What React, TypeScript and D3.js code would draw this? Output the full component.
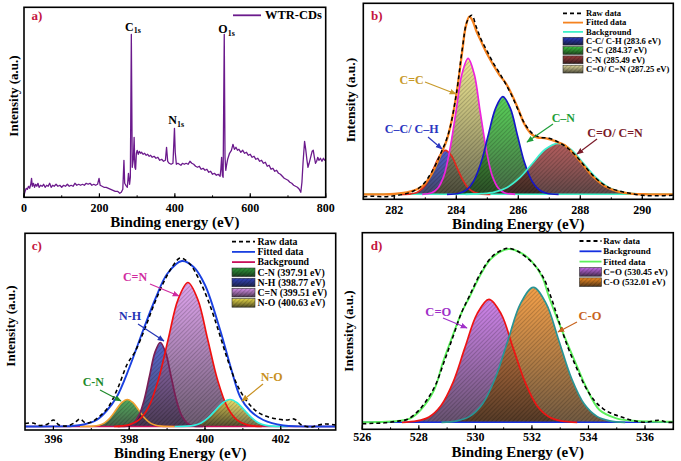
import React from "react";
import * as d3 from "d3";

type P = [number, number];

const FONT = "'Liberation Serif', 'Times New Roman', serif";

// ---------------- (a) survey spectrum ----------------
const surveyData: P[] = [[0,2],[3,6],[6,9],[9,8],[12,11],[15,9],[18,13],[20,19],[22,11],[25,14],[28,10],[31,13],[34,11],[37,14],[40,10],[44,12],[48,11],[52,13],[56,10],[60,12],[64,11],[68,14],[72,10],[76,12],[80,11],[85,13],[90,11],[95,12],[100,10],[105,12],[110,11],[115,13],[120,11],[125,12],[130,11],[135,14],[140,12],[145,13],[150,12],[155,13],[160,12],[165,14],[170,13],[175,14],[180,12],[185,13],[190,12],[195,13],[199,19],[202,12],[207,11],[212,10],[218,10],[224,9],[230,8],[236,7],[242,6],[248,6],[254,4],[258,5],[262,8],[265,37],[267,14],[270,12],[274,10],[277,24],[280,13],[282,20],[284.6,163],[287,30],[290,38],[292,60],[294,30],[296,28],[298,44],[300,47],[303,43],[306,46],[309,44],[312,45],[316,43],[320,44],[324,42],[328,43],[332,41],[336,42],[340,40],[345,41],[350,39],[355,40],[360,37],[365,38],[370,36],[375,37],[378,50],[381,36],[385,34],[390,33],[395,34],[399,69],[401,45],[404,33],[408,34],[412,33],[416,32],[420,34],[425,33],[430,34],[435,33],[440,36],[445,34],[450,33],[455,31],[460,30],[465,31],[470,28],[475,29],[480,27],[485,28],[490,25],[495,26],[500,23],[505,24],[510,22],[515,23],[520,21],[522,28],[524,40],[526,22],[528,20],[531,163],[533,40],[535,27],[537,32],[540,38],[545,44],[550,47],[554,53],[558,48],[562,50],[566,47],[570,48],[575,45],[580,47],[585,44],[590,45],[595,42],[600,43],[605,40],[610,41],[615,38],[620,39],[625,36],[630,37],[635,34],[640,35],[645,31],[650,32],[655,28],[660,29],[665,26],[670,27],[675,24],[680,23],[685,21],[690,19],[695,18],[700,17],[705,15],[710,14],[715,12],[720,11],[725,10],[730,8],[734,5],[737,15],[740,35],[744,56],[747,48],[750,38],[753,30],[756,34],[760,40],[764,46],[767,47],[770,40],[773,34],[776,36],[779,40],[782,37],[786,39],[790,36],[794,39],[797,37],[800,38]];
const surveyTicks = [0, 200, 400, 600, 800];

// ---------------- (b) C 1s ----------------
const c1sRaw: P[] = [[281,2.6],[281.3,3],[281.7,2.5],[282,3.5],[282.3,5],[282.6,8],[282.9,14],[283.2,27],[283.5,46],[283.75,66],[284,105],[284.2,152],[284.35,178],[284.5,184],[284.65,172],[284.8,160],[285,148],[285.2,136],[285.4,126],[285.6,115],[285.8,103],[286,89],[286.2,76],[286.45,66],[286.7,62],[287,61],[287.3,57],[287.6,51],[287.9,42],[288.2,31],[288.5,21],[288.9,12],[289.3,8],[289.6,6],[290,4],[290.5,3.5],[291,4]];
const c1sFit: P[] = [[281,5],[281.5,5],[282,5.3],[282.5,7.6],[282.9,13],[283.2,25],[283.5,45],[283.7,60],[283.9,86],[284.05,115],[284.2,150],[284.3,172],[284.42,182.6],[284.52,179],[284.65,168],[284.8,158],[285,145],[285.2,134],[285.4,124],[285.6,116],[285.8,104],[286,90],[286.2,75],[286.4,66],[286.6,62],[286.9,61],[287.2,58],[287.5,54],[287.8,45],[288.1,34],[288.4,23],[288.8,13],[289.2,8],[289.7,5.5],[290.2,5],[291,5]];
const c1sBg: P[] = [[281,5],[291,5]];
const c1sCC: P[] = [[282.2,5],[282.54,5.5],[282.73,6.9],[282.91,10.9],[283.1,19.3],[283.28,31.7],[283.47,43.8],[283.65,49],[283.84,43.8],[284.02,31.7],[284.21,19.3],[284.39,10.9],[284.58,6.9],[284.76,5.5],[285.1,5]];
const c1sCeqC: P[] = [[282.9,5],[283.21,6.5],[283.4,11],[283.6,23.4],[283.79,49.2],[283.99,87.6],[284.18,125],[284.38,141],[284.58,125],[284.77,87.6],[284.97,49.2],[285.16,23.4],[285.36,11],[285.55,6.5],[285.9,5]];
const c1sCN: P[] = [[283.7,5],[284.09,6.1],[284.33,9.3],[284.56,18.2],[284.8,36.7],[285.03,64.2],[285.27,91.1],[285.5,102.6],[285.74,91.1],[285.97,64.2],[286.2,36.7],[286.44,18.2],[286.68,9.3],[286.91,6.1],[287.3,5]];
const c1sCO: P[] = [[284.3,5],[284.82,5.6],[285.23,7.2],[285.64,11.9],[286.05,21.6],[286.46,36],[286.87,50],[287.28,56],[287.69,50],[288.1,36],[288.51,21.6],[288.92,11.9],[289.33,7.2],[289.74,5.6],[290.3,5]];
const c1sTicks = [282, 284, 286, 288, 290];
const c1sLegend = ["Raw data", "Fitted data", "Background", "C-C/ C-H (283.6 eV)", "C=C (284.37 eV)", "C-N (285.49 eV)", "C=O/ C=N (287.25 eV)"];

// ---------------- (c) N 1s ----------------
const n1sRaw: P[] = [[395.25,6.5],[395.45,7],[395.65,4.5],[395.85,6],[396,10],[396.15,5],[396.35,4],[396.55,7],[396.7,11],[396.85,7],[397,8],[397.2,13],[397.45,23],[397.7,42],[397.95,66],[398.15,78],[398.4,100],[398.65,125],[398.9,147],[399.15,164],[399.35,172],[399.6,166],[399.85,150],[400.1,128],[400.35,100],[400.6,70],[400.85,45],[401.1,29],[401.35,19],[401.6,14],[401.9,11],[402.15,10],[402.35,11],[402.55,5],[402.8,3],[403,5],[403.2,6],[403.45,5]];
const n1sFit: P[] = [[395.25,3.5],[396,3.6],[396.5,4],[396.8,5.5],[397.14,10],[397.4,19],[397.67,33],[398,62],[398.37,100],[398.7,132],[399,156],[399.39,169],[399.7,163],[400,145],[400.4,100],[400.7,60],[400.93,33],[401.2,19],[401.54,10],[402.07,4.5],[402.5,3.6],[403.45,3.5]];
const n1sBg: P[] = [[395.25,3.5],[403.45,3.5]];
const n1sCN: P[] = [[396.7,3.5],[397.05,3.8],[397.2,4.7],[397.35,7.1],[397.5,12.3],[397.65,19.9],[397.8,27.3],[397.95,30.5],[398.1,27.3],[398.25,19.9],[398.4,12.3],[398.55,7.1],[398.7,4.7],[398.85,3.8],[399.2,3.5]];
const n1sNH: P[] = [[397.7,3.5],[397.98,4.4],[398.12,7.2],[398.26,14.8],[398.4,30.8],[398.54,54.5],[398.68,77.6],[398.82,87.5],[398.96,77.6],[399.1,54.5],[399.24,30.8],[399.38,14.8],[399.52,7.2],[399.66,4.4],[399.95,3.5]];
const n1sCeqN: P[] = [[397.6,3.5],[397.99,5.1],[398.25,9.8],[398.51,22.9],[398.77,50.3],[399.03,90.9],[399.29,130.5],[399.55,147.5],[399.81,130.5],[400.07,90.9],[400.33,50.3],[400.59,22.9],[400.85,9.8],[401.11,5.1],[401.5,3.5]];
const n1sNO: P[] = [[399.2,3.5],[399.52,3.8],[399.71,4.7],[399.9,7.1],[400.09,12.3],[400.28,19.9],[400.47,27.3],[400.66,30.5],[400.85,27.3],[401.04,19.9],[401.23,12.3],[401.42,7.1],[401.61,4.7],[401.8,3.8],[402.2,3.5]];
const n1sTicks = [396, 398, 400, 402];
const n1sLegend = ["Raw data", "Fitted data", "Background", "C-N (397.91 eV)", "N-H (398.77 eV)", "C=N (399.51 eV)", "N-O (400.63 eV)"];

// ---------------- (d) O 1s ----------------
const o1sRaw: P[] = [[526,5.5],[526.4,6],[526.8,6.5],[527.2,8],[527.6,10],[528,19],[528.3,30],[528.6,45],[528.9,68],[529.2,92],[529.5,116],[529.8,134],[530.2,157],[530.6,173],[531,180],[531.2,181],[531.5,178],[531.8,172],[532.1,164],[532.4,152],[532.7,130],[533,104],[533.3,80],[533.6,60],[533.9,42],[534.2,29],[534.5,21],[534.8,16],[535.1,13],[535.4,10],[535.7,8],[536,7],[536.5,9],[536.8,7],[537,7]];
const o1sFit: P[] = [[526,7],[527.35,8.6],[527.7,11],[528.06,19.3],[528.54,39.3],[528.84,66],[529.14,89.3],[529.5,116],[529.8,132.6],[530.21,156],[530.57,171],[531.17,180.3],[531.64,176],[532,167.6],[532.36,152.6],[532.6,132.6],[532.96,106],[533.55,66],[533.91,42.6],[534.39,19.3],[534.99,11],[535.58,8.6],[537,7.6]];
const o1sBg: P[] = [[526,7],[537,7]];
const o1sCeqO: P[] = [[527.4,7],[527.93,8.4],[528.36,12.4],[528.78,23.6],[529.21,47],[529.63,81.7],[530.06,115.5],[530.48,130],[530.91,115.5],[531.33,81.7],[531.76,47],[532.18,23.6],[532.61,12.4],[533.03,8.4],[533.6,7]];
const o1sCO: P[] = [[528.8,7],[529.35,8.5],[529.8,12.9],[530.25,25.2],[530.7,50.9],[531.15,88.9],[531.6,126],[532.05,142],[532.5,126],[532.95,88.9],[533.4,50.9],[533.85,25.2],[534.3,12.9],[534.75,8.5],[535.3,7]];
const o1sTicks = [526, 528, 530, 532, 534, 536];
const o1sLegend = ["Raw data", "Background", "Fitted data", "C=O (530.45 eV)", "C-O (532.01 eV)"];

// ------------------------------------------------------------
type Frame = { x0: number; x1: number; y0: number; y1: number };
type Comp = { id: string; data: P[]; fill: string; stroke: string };
type Line = { data: P[]; color: string; width: number; dash?: string };
type LegendItem = { label: string; kind: "dash" | "line" | "swatch"; color: string; id?: string };
type Ann = { text: string; x: number; y: number; color: string; size: number; ax1: number; ay1: number; ax2: number; ay2: number };

const darken = (c: string) => d3.interpolateRgb(c, "#141414")(0.72);

function GradDefs({ comps }: { comps: { id: string; fill: string }[] }) {
  return (
    <>
      {comps.map((c) => (
        <linearGradient key={c.id} id={"g-" + c.id} x1="0" y1="0" x2="0" y2="1">
          <stop offset="0" stopColor={c.fill} />
          <stop offset="0.45" stopColor={d3.interpolateRgb(c.fill, "#141414")(0.3)} />
          <stop offset="1" stopColor={darken(c.fill)} />
        </linearGradient>
      ))}
    </>
  );
}

function Panel(props: {
  frame: Frame; xDomain: [number, number]; yMax: number; ticks: number[]; minorStep: number;
  base: number; comps: Comp[]; bg?: Line; fit?: Line; raw?: Line; survey?: Line;
  curve: any; label: string; labelPos: [number, number];
  tickY: number; tickSize: number; xTitle: string; titleY: number; titleSize: number;
  yTitleX: number; yTitleY: number; yTitleSize: number;
  legend: LegendItem[]; legX: number; legTextX: number; legY: number; legStep: number; legSize: number; legLineW: number;
  anns: Ann[]; id: string; extra?: React.ReactNode;
}) {
  const f = props.frame;
  const xs = d3.scaleLinear().domain(props.xDomain).range([f.x0, f.x1]);
  const ys = d3.scaleLinear().domain([0, props.yMax]).range([f.y1, f.y0]);
  const line = d3.line<P>().x((d) => xs(d[0])).y((d) => ys(d[1])).curve(props.curve);
  const area = d3.area<P>().x((d) => xs(d[0])).y0(ys(props.base)).y1((d) => ys(d[1])).curve(props.curve);
  const minor: number[] = [];
  for (let v = Math.ceil(props.xDomain[0] / props.minorStep) * props.minorStep; v <= props.xDomain[1] + 1e-9; v += props.minorStep) minor.push(v);
  const clip = "clip-" + props.id;
  const drawLine = (l: Line | undefined, key: string) =>
    l ? <path key={key} d={line(l.data) || ""} fill="none" stroke={l.color} strokeWidth={l.width} strokeDasharray={l.dash} strokeLinejoin="round" /> : null;
  return (
    <g>
      <defs>
        <clipPath id={clip}><rect x={f.x0} y={f.y0} width={f.x1 - f.x0} height={f.y1 - f.y0} /></clipPath>
      </defs>
      <g clipPath={`url(#${clip})`}>
        {props.comps.map((c) => (
          <g key={c.id}>
            <path d={area(c.data) || ""} fill={`url(#g-${c.id})`} fillOpacity={0.82} />
            <path d={area(c.data) || ""} fill="url(#hatch)" />
          </g>
        ))}
        {drawLine(props.bg, "bg")}
        {props.comps.map((c) => (
          <path key={"o" + c.id} d={line(c.data) || ""} fill="none" stroke={c.stroke} strokeWidth={1.7} />
        ))}
        {drawLine(props.fit, "fit")}
        {drawLine(props.raw, "raw")}
        {props.survey ? <path d={d3.line<P>().x((d) => xs(d[0])).y((d) => ys(d[1]))(props.survey.data) || ""} fill="none" stroke={props.survey.color} strokeWidth={props.survey.width} strokeLinejoin="round" /> : null}
      </g>
      <rect x={f.x0} y={f.y0} width={f.x1 - f.x0} height={f.y1 - f.y0} fill="none" stroke="#000" strokeWidth={1.6} />
      {minor.map((v) => (
        <line key={"m" + v} x1={xs(v)} x2={xs(v)} y1={f.y1} y2={f.y1 - 2} stroke="#000" strokeWidth={1} />
      ))}
      {props.ticks.map((t) => (
        <g key={"t" + t}>
          <line x1={xs(t)} x2={xs(t)} y1={f.y1} y2={f.y1 - 4} stroke="#000" strokeWidth={1.2} />
          <text x={xs(t)} y={props.tickY} textAnchor="middle" fontSize={props.tickSize} fontWeight="bold" fontFamily={FONT}>{t}</text>
        </g>
      ))}
      <text x={(f.x0 + f.x1) / 2} y={props.titleY} textAnchor="middle" fontSize={props.titleSize} fontWeight="bold" fontFamily={FONT}>{props.xTitle}</text>
      <text transform={`translate(${props.yTitleX},${props.yTitleY}) rotate(-90)`} textAnchor="middle" fontSize={props.yTitleSize} fontWeight="bold" fontFamily={FONT}>Intensity (a.u.)</text>
      <text x={props.labelPos[0]} y={props.labelPos[1]} fontSize={13} fontWeight="bold" fontFamily={FONT} fill="#c4163f">{props.label}</text>
      {props.legend.map((it, i) => {
        const y = props.legY + i * props.legStep;
        const x1 = props.legX, x2 = props.legX + props.legLineW;
        let mark: React.ReactNode;
        if (it.kind === "dash") mark = <line x1={x1} x2={x2} y1={y} y2={y} stroke="#000" strokeWidth={1.8} strokeDasharray="4,3" />;
        else if (it.kind === "line") mark = <line x1={x1} x2={x2} y1={y} y2={y} stroke={it.color} strokeWidth={1.8} />;
        else mark = (
          <g>
            <rect x={x1} y={y - props.legStep * 0.42} width={x2 - x1} height={props.legStep * 0.84} fill={`url(#g-${it.id})`} stroke="#333" strokeWidth={0.6} />
            <rect x={x1} y={y - props.legStep * 0.42} width={x2 - x1} height={props.legStep * 0.84} fill="url(#hatch)" />
          </g>
        );
        return (
          <g key={"l" + i}>
            {mark}
            <text x={props.legTextX} y={y + props.legSize * 0.33} fontSize={props.legSize} fontWeight="bold" fontFamily={FONT}>{it.label}</text>
          </g>
        );
      })}
      {props.anns.map((a, i) => (
        <g key={"a" + i}>
          <text x={a.x} y={a.y} textAnchor="middle" fontSize={a.size} fontWeight="bold" fontFamily={FONT} fill={a.color}>{a.text}</text>
          <line x1={a.ax1} y1={a.ay1} x2={a.ax2} y2={a.ay2} stroke={a.color} strokeWidth={1.2} markerEnd={`url(#arr-${a.color.slice(1)})`} />
        </g>
      ))}
      {props.extra}
    </g>
  );
}

const ANN_COLORS = ["#c89a2a", "#2a35c0", "#1e9e3a", "#7a1a28", "#d02ca0", "#2535b5", "#1e8a2a", "#c89020", "#a030c8", "#c8641e"];

export default function App() {
  const bComps: Comp[] = [
    { id: "bCC", data: c1sCC, fill: "#2a3ac0", stroke: "#e0281e" },
    { id: "bCeqC", data: c1sCeqC, fill: "#ece27a", stroke: "#ee22dd" },
    { id: "bCN", data: c1sCN, fill: "#34c834", stroke: "#1616c8" },
    { id: "bCO", data: c1sCO, fill: "#a43a3a", stroke: "#3ff0d0" },
  ];
  const cComps: Comp[] = [
    { id: "cCN", data: n1sCN, fill: "#2e9a3a", stroke: "#f0a030" },
    { id: "cNH", data: n1sNH, fill: "#3444c0", stroke: "#7a1e55" },
    { id: "cCeqN", data: n1sCeqN, fill: "#d890ea", stroke: "#f01010" },
    { id: "cNO", data: n1sNO, fill: "#e6d848", stroke: "#30f0e0" },
  ];
  const dComps: Comp[] = [
    { id: "dCeqO", data: o1sCeqO, fill: "#c468e6", stroke: "#ee1414" },
    { id: "dCO", data: o1sCO, fill: "#f28c22", stroke: "#2a9494" },
  ];
  const legendFills = [
    { id: "lbCC", fill: "#2a3ac0" }, { id: "lbCeqC", fill: "#3cc03c" }, { id: "lbCN", fill: "#9a3a3a" }, { id: "lbCO", fill: "#e0d89a" },
  ];
  const curve = d3.curveCatmullRom.alpha(0.5);

  return (
    <svg width={681} height={461} style={{ position: "absolute", left: 0, top: 0, background: "#fff" }}>
      <defs>
        <pattern id="hatch" patternUnits="userSpaceOnUse" width={3} height={3} patternTransform="rotate(45)">
          <line x1={0} y1={0} x2={0} y2={3} stroke="#000" strokeOpacity={0.35} strokeWidth={1} />
        </pattern>
        <GradDefs comps={[...bComps, ...cComps, ...dComps, ...legendFills]} />
        {ANN_COLORS.map((c) => (
          <marker key={c} id={"arr-" + c.slice(1)} viewBox="0 0 10 10" refX={9} refY={5} markerWidth={7} markerHeight={7} orient="auto" markerUnits="userSpaceOnUse">
            <path d="M0,1 L10,5 L0,9 z" fill={c} />
          </marker>
        ))}
      </defs>

      {/* (a) */}
      <Panel id="a" frame={{ x0: 24, x1: 325.7, y0: 7.3, y1: 197.3 }} xDomain={[0, 800]} yMax={190} ticks={surveyTicks} minorStep={100}
        base={0} comps={[]} survey={{ data: surveyData, color: "#6b1a8c", width: 1.3 }} curve={d3.curveLinear}
        label="a)" labelPos={[31.5, 19.5]} tickY={212} tickSize={12} xTitle="Binding energy (eV)" titleY={226.5} titleSize={15}
        yTitleX={17.5} yTitleY={96} yTitleSize={13}
        legend={[{ label: "WTR-CDs", kind: "line", color: "#6b1a8c" }]} legX={233} legTextX={265} legY={15.3} legStep={10} legSize={12.5} legLineW={28}
        anns={[]}
        extra={
          <g fontFamily={FONT} fontWeight="bold" fontSize={12}>
            <text x={125} y={30.5}>C<tspan fontSize={8} dy={2.5}>1s</tspan></text>
            <text x={218.3} y={33.3}>O<tspan fontSize={8} dy={2.5}>1s</tspan></text>
            <text x={168.3} y={124}>N<tspan fontSize={8} dy={2.5}>1s</tspan></text>
          </g>
        } />

      {/* (b) */}
      <Panel id="b" frame={{ x0: 363.3, x1: 673.3, y0: 3.3, y1: 199.3 }} xDomain={[281, 291]} yMax={196} ticks={c1sTicks} minorStep={1}
        base={5} comps={bComps}
        bg={{ data: c1sBg, color: "#3ff0c8", width: 1.5 }}
        fit={{ data: c1sFit, color: "#f5821f", width: 2.3 }}
        raw={{ data: c1sRaw, color: "#000", width: 1.5, dash: "4,3" }}
        curve={curve} label="b)" labelPos={[371, 19.5]} tickY={213.5} tickSize={12} xTitle="Binding Energy (eV)" titleY={228.5} titleSize={15}
        yTitleX={355} yTitleY={100} yTitleSize={13.5}
        legend={[
          { label: c1sLegend[0], kind: "dash", color: "#000" },
          { label: c1sLegend[1], kind: "line", color: "#f5821f" },
          { label: c1sLegend[2], kind: "line", color: "#3ff0c8" },
          { label: c1sLegend[3], kind: "swatch", color: "", id: "lbCC" },
          { label: c1sLegend[4], kind: "swatch", color: "", id: "lbCeqC" },
          { label: c1sLegend[5], kind: "swatch", color: "", id: "lbCN" },
          { label: c1sLegend[6], kind: "swatch", color: "", id: "lbCO" },
        ]} legX={563} legTextX={586} legY={13.3} legStep={9.3} legSize={8.6} legLineW={20}
        anns={[
          { text: "C=C", x: 411.7, y: 84, color: "#c89a2a", size: 12, ax1: 425, ay1: 82, ax2: 456, ay2: 94 },
          { text: "C–C/ C–H", x: 411.7, y: 132.5, color: "#2a35c0", size: 12, ax1: 428, ay1: 137, ax2: 442, ay2: 149 },
          { text: "C–N", x: 563.3, y: 121.5, color: "#1e9e3a", size: 12, ax1: 553, ay1: 124, ax2: 527, ay2: 142 },
          { text: "C=O/ C=N", x: 615, y: 137, color: "#7a1a28", size: 12, ax1: 597, ay1: 139, ax2: 577, ay2: 154 },
        ]} />

      {/* (c) */}
      <Panel id="c" frame={{ x0: 25, x1: 335.7, y0: 233.3, y1: 430 }} xDomain={[395.25, 403.45]} yMax={196.7} ticks={n1sTicks} minorStep={1}
        base={3.5} comps={cComps}
        bg={{ data: n1sBg, color: "#c8105a", width: 1.5 }}
        fit={{ data: n1sFit, color: "#1a40e0", width: 1.9 }}
        raw={{ data: n1sRaw, color: "#000", width: 1.6, dash: "4,3" }}
        curve={curve} label="c)" labelPos={[31.7, 250]} tickY={443} tickSize={12} xTitle="Binding Energy (eV)" titleY={458} titleSize={15}
        yTitleX={15} yTitleY={326} yTitleSize={13}
        legend={[
          { label: n1sLegend[0], kind: "dash", color: "#000" },
          { label: n1sLegend[1], kind: "line", color: "#1a40e0" },
          { label: n1sLegend[2], kind: "line", color: "#c8105a" },
          { label: n1sLegend[3], kind: "swatch", color: "", id: "cCN" },
          { label: n1sLegend[4], kind: "swatch", color: "", id: "cNH" },
          { label: n1sLegend[5], kind: "swatch", color: "", id: "cCeqN" },
          { label: n1sLegend[6], kind: "swatch", color: "", id: "cNO" },
        ]} legX={232} legTextX={257.5} legY={241.7} legStep={10.2} legSize={9.8} legLineW={23}
        anns={[
          { text: "C=N", x: 135, y: 281, color: "#d02ca0", size: 12, ax1: 150, ay1: 284, ax2: 179, ay2: 296 },
          { text: "N-H", x: 130, y: 320, color: "#2535b5", size: 12, ax1: 138, ay1: 324, ax2: 164, ay2: 341 },
          { text: "C-N", x: 93.3, y: 386, color: "#1e8a2a", size: 12, ax1: 100, ay1: 390, ax2: 121, ay2: 401 },
          { text: "N-O", x: 271.7, y: 381, color: "#c89020", size: 12, ax1: 263, ay1: 384, ax2: 242, ay2: 401 },
        ]} />

      {/* (d) */}
      <Panel id="d" frame={{ x0: 362.3, x1: 673.3, y0: 232.7, y1: 429.3 }} xDomain={[526, 537]} yMax={196.6} ticks={o1sTicks} minorStep={1}
        base={7} comps={dComps}
        bg={{ data: o1sBg, color: "#1530e0", width: 1.6 }}
        fit={{ data: o1sFit, color: "#5cf05c", width: 1.9 }}
        raw={{ data: o1sRaw, color: "#000", width: 1.6, dash: "4,3" }}
        curve={curve} label="d)" labelPos={[370.7, 249.5]} tickY={440.5} tickSize={12} xTitle="Binding Energy (eV)" titleY={457} titleSize={15}
        yTitleX={353} yTitleY={331} yTitleSize={13}
        legend={[
          { label: o1sLegend[0], kind: "dash", color: "#000" },
          { label: o1sLegend[1], kind: "line", color: "#1530e0" },
          { label: o1sLegend[2], kind: "line", color: "#5cf05c" },
          { label: o1sLegend[3], kind: "swatch", color: "", id: "dCeqO" },
          { label: o1sLegend[4], kind: "swatch", color: "", id: "dCO" },
        ]} legX={579.5} legTextX={603.3} legY={241} legStep={10.3} legSize={9} legLineW={22}
        anns={[
          { text: "C=O", x: 438.3, y: 316, color: "#a030c8", size: 12.5, ax1: 443, ay1: 318, ax2: 467, ay2: 328 },
          { text: "C-O", x: 590, y: 319.5, color: "#c8641e", size: 12.5, ax1: 577, ay1: 322, ax2: 558, ay2: 332 },
        ]} />
    </svg>
  );
}
